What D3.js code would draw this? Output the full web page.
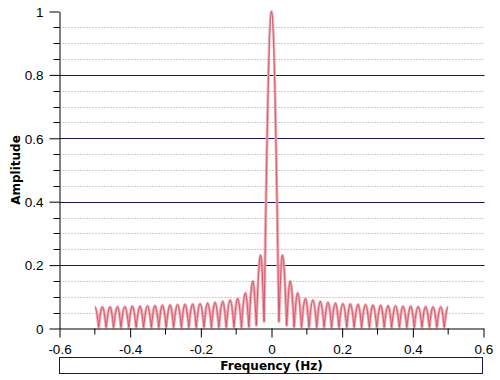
<!DOCTYPE html>
<html>
<head>
<meta charset="utf-8">
<script src="https://cdn.jsdelivr.net/npm/d3@7"></script>
<style>
  body { margin: 0; background: #fff; }
  svg { display: block; }
</style>
</head>
<body>
<svg id="chart" width="500" height="380"></svg>
<script>
// tick values and labels
var xTicks = [-0.6, -0.4, -0.2, 0, 0.2, 0.4, 0.6];
var xTickLabels = ["-0.6", "-0.4", "-0.2", "0", "0.2", "0.4", "0.6"];
var xMinor = [-0.5, -0.3, -0.1, 0.1, 0.3, 0.5];
var yTicks = [0, 0.2, 0.4, 0.6, 0.8, 1];
var yTickLabels = ["0", "0.2", "0.4", "0.6", "0.8", "1"];
var yGridMajor = [0.2, 0.4, 0.6, 0.8];
var yMinor = [0.05, 0.1, 0.15, 0.25, 0.3, 0.35, 0.45, 0.5, 0.55, 0.65, 0.7, 0.75, 0.85, 0.9, 0.95];

// spectrum (positive half, the plot is symmetric)
var mainPeak = {f: 0, a: 1};
var nullFreqs = [0.021, 0.043, 0.064, 0.085, 0.106, 0.128, 0.149, 0.170, 0.191, 0.213, 0.234, 0.255,
                 0.277, 0.298, 0.319, 0.340, 0.362, 0.383, 0.404, 0.426, 0.447, 0.468, 0.489];
var nullAmps = [0.022, 0.010, 0.005, 0.004, 0.004, 0.004, 0.004, 0.004, 0.004, 0.004, 0.004, 0.004,
                0.004, 0.004, 0.004, 0.004, 0.004, 0.004, 0.004, 0.004, 0.004, 0.004, 0.004];
var peakFreqs = [0.031, 0.053, 0.074, 0.096, 0.117, 0.138, 0.160, 0.181, 0.202, 0.223, 0.245,
                 0.266, 0.287, 0.309, 0.330, 0.351, 0.372, 0.394, 0.415, 0.436, 0.457, 0.479];
var peakAmps = [0.231, 0.150, 0.112, 0.095, 0.089, 0.085, 0.082, 0.080, 0.078, 0.077, 0.076,
                0.075, 0.074, 0.073, 0.072, 0.071, 0.070, 0.070, 0.069, 0.069, 0.068, 0.068];
var edgePoint = {f: 0.5, a: 0.068};

var navy = "#16165c";
var tickFont = "'Liberation Sans', Arial, sans-serif";
var titleFont = "'DejaVu Sans', sans-serif";

var svg = d3.select("#chart");

var x = d3.scaleLinear().domain([-0.6, 0.6]).range([59.5, 483.5]);
var y = d3.scaleLinear().domain([0, 1]).range([328.5, 11.5]);

// dotted minor grid
svg.append("g").selectAll("line").data(yMinor).enter().append("line")
  .attr("x1", x(-0.6)).attr("x2", x(0.6))
  .attr("y1", function (d) { return Math.round(y(d)) + 0.5; })
  .attr("y2", function (d) { return Math.round(y(d)) + 0.5; })
  .attr("stroke", "#9a9a9a").attr("stroke-width", 1)
  .attr("stroke-dasharray", "1,2");

// solid major grid
svg.append("g").selectAll("line").data(yGridMajor).enter().append("line")
  .attr("x1", x(-0.6)).attr("x2", x(0.6) + 1)
  .attr("y1", function (d) { return Math.round(y(d)) + 0.5; })
  .attr("y2", function (d) { return Math.round(y(d)) + 0.5; })
  .attr("stroke", navy).attr("stroke-width", 1);

// build the point list, left half mirrored
var right = [{f: mainPeak.f, a: mainPeak.a, peak: true}];
for (var i = 0; i < nullFreqs.length; i++) {
  right.push({f: nullFreqs[i], a: nullAmps[i], peak: false});
  if (i < peakFreqs.length) right.push({f: peakFreqs[i], a: peakAmps[i], peak: true});
}
right.push({f: edgePoint.f, a: edgePoint.a, peak: true});
var left = right.slice(1).map(function (d) { return {f: -d.f, a: d.a, peak: d.peak}; }).reverse();
var pts = left.concat(right);

// each lobe side drawn as a sine-like arc: flat at peaks, steep at nulls
var k = Math.PI / 6;
var p = d3.path();
p.moveTo(x(pts[0].f), y(pts[0].a));
for (var j = 1; j < pts.length; j++) {
  var a = pts[j - 1], b = pts[j];
  var xa = x(a.f), ya = y(a.a), xb = x(b.f), yb = y(b.a);
  var dx = xb - xa, dy = yb - ya;
  if (!a.peak && b.peak) {
    p.bezierCurveTo(xa + dx / 3, ya + dy * k, xb - dx / 3, yb, xb, yb);
  } else {
    p.bezierCurveTo(xa + dx / 3, ya, xb - dx / 3, yb - dy * k, xb, yb);
  }
}

svg.append("path").attr("d", p.toString())
  .attr("fill", "none").attr("stroke", "#f4a9b0").attr("stroke-width", 3)
  .attr("stroke-linejoin", "round");
svg.append("path").attr("d", p.toString())
  .attr("fill", "none").attr("stroke", "#c64860").attr("stroke-width", 0.8)
  .attr("stroke-linejoin", "round");

// axes
var xAxis = d3.axisBottom(x).tickValues(xTicks).tickSize(9).tickSizeOuter(0)
  .tickFormat(function (d, i) { return xTickLabels[i]; });
var gx = svg.append("g").attr("transform", "translate(0," + y(0) + ")").call(xAxis);
gx.selectAll("text").attr("dy", null).attr("y", 25)
  .style("font-family", tickFont).style("font-size", "13.5px").attr("fill", "#000");
gx.select(".domain").attr("stroke", "#000");
gx.selectAll(".tick line").attr("stroke", "#000");
gx.selectAll(".minor").data(xMinor).enter().append("line").attr("class", "minor")
  .attr("x1", function (d) { return x(d); }).attr("x2", function (d) { return x(d); })
  .attr("y1", 0).attr("y2", 6).attr("stroke", "#000");

var yAxis = d3.axisLeft(y).tickValues(yTicks).tickSize(10).tickSizeOuter(0)
  .tickFormat(function (d, i) { return yTickLabels[i]; });
var gy = svg.append("g").attr("transform", "translate(" + x(-0.6) + ",0)").call(yAxis);
gy.selectAll("text").attr("x", -16).attr("dy", "0.36em")
  .style("font-family", tickFont).style("font-size", "13.5px").attr("fill", "#000");
gy.select(".domain").attr("stroke", "#000");
gy.selectAll(".tick line").attr("stroke", "#000");
gy.selectAll(".minor").data(yMinor).enter().append("line").attr("class", "minor")
  .attr("x1", -6).attr("x2", 0)
  .attr("y1", function (d) { return Math.round(y(d)) + 0.5; })
  .attr("y2", function (d) { return Math.round(y(d)) + 0.5; })
  .attr("stroke", "#000");

// titles
svg.append("text")
  .attr("transform", "translate(20," + 170 + ") rotate(-90)")
  .attr("text-anchor", "middle")
  .style("font-family", titleFont).style("font-size", "12px").style("font-weight", "bold")
  .text("Amplitude");

svg.append("rect")
  .attr("x", x(-0.6)).attr("y", 357.5)
  .attr("width", x(0.6) - x(-0.6) - 1).attr("height", 16)
  .attr("fill", "#fff").attr("stroke", navy);

svg.append("text")
  .attr("x", (x(-0.6) + x(0.6)) / 2).attr("y", 370)
  .attr("text-anchor", "middle")
  .style("font-family", titleFont).style("font-size", "12px").style("font-weight", "bold")
  .text("Frequency (Hz)");
</script>
</body>
</html>
